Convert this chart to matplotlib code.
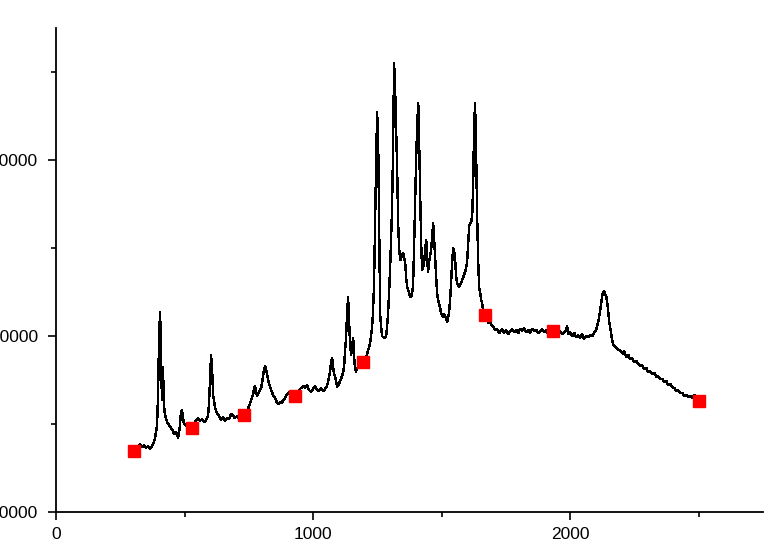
import matplotlib
matplotlib.use("Agg")
from matplotlib import pyplot as plt
from matplotlib.ticker import MultipleLocator

plt.rcParams['font.family'] = ['Liberation Sans', 'DejaVu Sans']

# spectrum (raman shift, counts)
raman_shift = [
    319, 327, 335, 342, 350, 358, 366, 374, 381, 385, 389, 393, 397, 401, 405, 409, 412, 416, 420, 424,
    432, 440, 447, 455, 459, 467, 475, 479, 482, 486, 490, 494, 498, 506, 514, 521, 529, 537, 545, 553,
    560, 568, 576, 584, 591, 595, 599, 603, 607, 611, 619, 626, 634, 642, 650, 658, 665, 673,
    681, 689, 696, 704, 712, 720, 728, 735, 743, 751, 759, 767, 770, 774, 778, 782, 790, 798, 802, 809,
    813, 817, 821, 825, 833, 840, 844, 852, 860, 868, 872, 879, 883, 891, 899, 907, 914, 922, 930, 938,
    946, 949, 957, 961, 969, 977, 984, 992, 1000, 1008, 1016, 1023, 1031, 1039, 1047, 1054, 1058, 1066,
    1070, 1074, 1078, 1082, 1089, 1093, 1101, 1105,
    1109, 1117, 1121, 1124, 1128, 1132, 1136, 1140, 1144, 1148, 1152, 1156, 1160, 1163, 1167, 1171, 1179,
    1187, 1195, 1202, 1210, 1218, 1222, 1226, 1230, 1233, 1237, 1241, 1245, 1249, 1253, 1257, 1261, 1265,
    1268, 1276, 1284, 1288, 1292, 1296, 1300, 1303, 1307, 1311, 1315, 1319, 1323, 1327, 1331, 1335, 1339,
    1346, 1350, 1358, 1362, 1366, 1374, 1377,
    1381, 1385, 1389, 1393, 1397, 1401, 1405, 1409, 1412, 1416, 1420, 1424, 1428, 1432, 1436, 1440, 1444,
    1447, 1451, 1459, 1463, 1467, 1471, 1475, 1479, 1482, 1486, 1494, 1498, 1506, 1510, 1517, 1521, 1525,
    1529, 1533, 1537, 1541, 1545, 1549, 1553, 1556, 1560, 1568, 1576, 1584, 1591, 1595, 1599, 1603, 1607,
    1611, 1615, 1619, 1623, 1626, 1630, 1634, 1638, 1642, 1646, 1650, 1654, 1658, 1661, 1665, 1673, 1681,
    1689,
    1696, 1704, 1708, 1716, 1724, 1728, 1735, 1743, 1751, 1759, 1767, 1774, 1782, 1790, 1798, 1805, 1813,
    1821, 1829, 1837, 1844, 1852, 1860, 1868, 1875, 1883, 1891, 1899, 1907, 1914, 1922, 1930, 1938, 1946,
    1953, 1961, 1969, 1977, 1984, 1988, 1992, 2000, 2008, 2016, 2023, 2031, 2039, 2047, 2054, 2062, 2070,
    2078, 2086, 2093, 2101, 2109, 2117, 2121, 2124, 2128, 2132, 2136, 2140, 2144, 2148, 2152, 2156, 2160,
    2163, 2167, 2175, 2183,
    2191, 2198, 2206, 2210, 2218, 2226, 2233, 2241, 2249, 2257, 2265, 2272, 2280, 2288, 2296, 2303, 2311,
    2319, 2327, 2335, 2342, 2350, 2358, 2366, 2374, 2381, 2389, 2397, 2405, 2412, 2420, 2428, 2436, 2444,
    2451, 2459, 2467, 2475, 2482, 2490,
]
intensity = [
    13749, 13863, 13692, 13806, 13636, 13749, 13579, 13749, 13977, 14204, 14545, 14942, 16647, 20056, 21363,
    18636, 16363, 18238, 16079, 15511,
    15113, 14942, 14772, 14602, 14431, 14545, 14204, 14545, 14942, 15624, 15795, 15340, 14999, 14886, 14999,
    14886, 15056, 14942, 15227, 15340,
    15170, 15283, 15113, 15227, 15454, 16079, 17499, 18920, 18181, 16647, 15908, 15624, 15454, 15227, 15397,
    15170, 15340, 15283,
    15568, 15454, 15340, 15454, 15283, 15454, 15568, 15624, 15738, 16022, 16363, 16704, 17045, 17158, 16818,
    16590, 16818, 17045, 17386, 18068,
    18295, 18124, 17840, 17499, 17102, 16818, 16647, 16477, 16193, 16136, 16249, 16193, 16363, 16477, 16704,
    16818, 16761, 16874, 16818, 16818,
    16874, 16988, 17102, 17158, 17045, 17215, 16931, 16818, 16988, 17158, 16931, 16874, 17045, 16874, 16988,
    17158, 17386, 17954,
    18522, 18749, 18181, 17840, 17499, 17102, 17272, 17499,
    17556, 17954, 18352, 19090, 19886, 21193, 22215, 20795, 19488, 18920, 19488, 19886, 18749, 18181, 17954,
    18181, 18295,
    18352, 18522, 18636, 18977, 19374, 19659, 20056, 20624, 21363, 22897, 26306, 29716, 32727, 31136, 26022,
    21193, 20454,
    19999, 19886, 19943, 20568, 21363, 22613, 24034, 25454, 27159, 30568, 35511, 34091, 31704, 29432, 26306,
    24886, 24318,
    24545, 24716, 24204, 23295, 22784, 22443, 22215,
    22215, 22443, 22897, 25170, 27727, 30170, 31988, 33239, 31420, 28295, 25454, 23750, 23920, 24204, 24886,
    25454, 24431,
    23636, 24204, 24886, 25568, 26420, 25454, 24318, 23295, 22500, 22045, 21590, 21306, 21079, 21250, 21022,
    20795, 21022,
    21363, 22045, 23181, 24204, 25000, 24772, 24204, 23465, 23011, 22784, 23011, 23352, 23636, 23863, 24204,
    25170, 26250,
    26363, 26477, 26875, 28863, 31704, 33239, 30568, 26875, 24318, 22727, 22443, 22045, 21818, 21477, 21136,
    21022, 20738,
    20738,
    20568, 20454, 20340, 20397, 20170, 20284, 20397, 20170, 20340, 20113, 20284, 20397, 20227, 20340, 20170,
    20397, 20284,
    20454, 20227, 20340, 20170, 20397, 20284, 20340, 20170, 20284, 20397, 20227, 20340, 20113, 20284, 20340,
    20227, 20397,
    20170, 20284, 20113, 20227, 20340, 20568, 20113, 20227, 19999, 20170, 19943, 20056, 19886, 20113, 19829,
    19999, 19943,
    20056, 19999, 20170, 20340, 20795, 21477, 21875, 22272, 22500, 22556, 22386, 22272, 21931, 21363, 20795,
    20454, 20056,
    19772, 19545, 19374, 19261,
    19204, 19090, 18977, 19147, 18806, 18920, 18693, 18749, 18522, 18579, 18409, 18295, 18352, 18124, 18181,
    17954, 18011,
    17840, 17897, 17670, 17727, 17556, 17556, 17386, 17443, 17215, 17272, 17102, 17045, 16874, 16931, 16761,
    16761, 16590,
    16647, 16533, 16590, 16477, 16647, 16590,
]

# baseline anchor points (red squares)
baseline_x = [303, 529, 731, 930, 1195, 1669, 1934, 2502]
baseline_y = [13466, 14773, 15511, 16591, 18523, 21193, 20284, 16307]

x_ticks = [0, 1000, 2000]
y_ticks = [10000, 20000, 30000]
y_tick_labels = ['10000', '20000', '30000']

fig = plt.figure(figsize=(7.75, 5.52), dpi=100)
ax = fig.add_axes([56 / 775, 40 / 552, 707 / 775, 484 / 552])

ax.plot(raman_shift, intensity, color='black', lw=1.0, antialiased=False, zorder=2)
ax.plot(baseline_x, baseline_y, ls='none', marker='s', ms=8, color='#ff0000', zorder=3)

ax.set_xlim(0, 2750)
ax.set_ylim(10000, 37500)
ax.set_xticks(x_ticks)
ax.set_xticklabels([str(t) for t in x_ticks])
ax.set_yticks(y_ticks)
ax.set_yticklabels(y_tick_labels)
ax.xaxis.set_minor_locator(MultipleLocator(500))
ax.yaxis.set_minor_locator(MultipleLocator(5000))

for side in ('top', 'right'):
    ax.spines[side].set_visible(False)
for side in ('left', 'bottom'):
    ax.spines[side].set_linewidth(1.3)

ax.tick_params(which='major', direction='out', length=6, width=1.2, labelsize=12.5, color='black')
ax.tick_params(which='minor', direction='out', length=3.5, width=1.2, color='black')
ax.tick_params(axis='y', which='major', pad=7)
ax.tick_params(axis='x', which='major', pad=5)

fig.savefig('out.png', dpi=100)
